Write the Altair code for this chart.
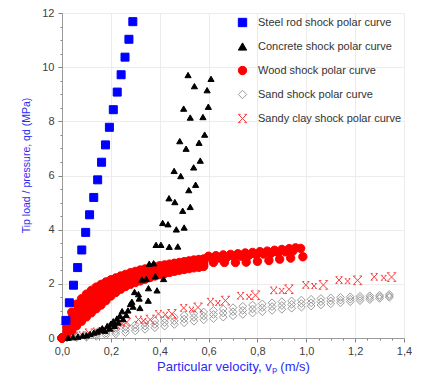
import altair as alt
import pandas as pd

series_names = [
    "Steel rod shock polar curve",
    "Concrete shock polar curve",
    "Wood shock polar curve",
    "Sand shock polar curve",
    "Sandy clay shock polar curve",
]
fill_colors = ["#0000ff", "#000000", "#ff0000", "transparent", "transparent"]
stroke_colors = ["#0000ff", "#000000", "#ff0000", "#9a9a9a", "#ff3b3b"]
x_path = "M-1,-1L1,1M-1,1L1,-1M-1,-1L-0.45,-1M0.45,-1L1,-1M-1,1L-0.45,1M0.45,1L1,1"
shapes = ["square", "triangle-up", "circle", "diamond", x_path]

# Steel rod
steel_x = [0.016, 0.030, 0.047, 0.064, 0.081, 0.097, 0.113, 0.130, 0.146,
           0.162, 0.178, 0.194, 0.210, 0.226, 0.242, 0.258, 0.274, 0.290]
steel_y = [0.65, 1.30, 1.95, 2.60, 3.25, 3.90, 4.55, 5.19, 5.84,
           6.49, 7.13, 7.78, 8.43, 9.08, 9.72, 10.37, 11.03, 11.68]

# Concrete
concrete_x = [0.516, 0.542, 0.594, 0.610, 0.498, 0.525, 0.577, 0.599,
              0.482, 0.508, 0.561, 0.584, 0.459, 0.486, 0.539, 0.566,
              0.519, 0.547, 0.438, 0.462, 0.494, 0.525, 0.412, 0.434,
              0.468, 0.500, 0.385, 0.405, 0.439, 0.474, 0.357, 0.375,
              0.327, 0.345, 0.382, 0.416, 0.297, 0.313, 0.354, 0.389,
              0.286, 0.316, 0.353, 0.280, 0.291, 0.319,
              0.025, 0.045, 0.065, 0.085, 0.100, 0.115, 0.130, 0.145,
              0.155, 0.165, 0.175, 0.185, 0.195, 0.200, 0.210, 0.215,
              0.225, 0.230, 0.237, 0.246, 0.250, 0.263, 0.270]
concrete_y = [9.71, 9.30, 9.15, 9.57, 8.47, 8.14, 8.16, 8.54,
              7.27, 6.99, 7.21, 7.51, 6.17, 5.98, 6.30, 6.55,
              5.46, 5.66, 5.16, 5.02, 4.70, 4.84, 4.25, 4.20,
              4.01, 4.08, 3.44, 3.44, 3.37, 3.38, 2.74, 2.76,
              2.16, 2.18, 2.28, 2.18, 1.70, 1.62, 1.84, 1.76,
              1.34, 1.46, 1.38, 1.26, 1.16, 1.11,
              0.01, 0.03, 0.05, 0.09, 0.10, 0.15, 0.20, 0.24,
              0.30, 0.36, 0.27, 0.44, 0.35, 0.53, 0.62, 0.45,
              0.72, 0.57, 0.82, 0.99, 0.70, 0.85, 1.02]

# Wood (dense band, four rows, then the tail)
wood_x = [0.00, 0.02, 0.04, 0.06, 0.08, 0.10, 0.12, 0.14, 0.16, 0.18,
          0.20, 0.22, 0.24, 0.26, 0.28, 0.30, 0.32, 0.34, 0.36, 0.38,
          0.40, 0.42, 0.44, 0.46, 0.48, 0.50, 0.52, 0.54, 0.56, 0.58]
wood_y_upper = [0.00, 0.55, 0.95, 1.25, 1.45, 1.62, 1.76, 1.88, 1.98, 2.07,
                2.15, 2.22, 2.29, 2.35, 2.41, 2.46, 2.51, 2.55, 2.59, 2.63,
                2.67, 2.70, 2.73, 2.76, 2.79, 2.82, 2.85, 2.88, 2.90, 2.92]
wood_y_mid1 = [0.00, 0.40, 0.73, 1.00, 1.21, 1.38, 1.53, 1.66, 1.78, 1.88,
               1.98, 2.07, 2.15, 2.22, 2.28, 2.34, 2.39, 2.44, 2.48, 2.52,
               2.56, 2.60, 2.63, 2.66, 2.69, 2.72, 2.75, 2.77, 2.79, 2.81]
wood_y_mid2 = [0.00, 0.25, 0.50, 0.72, 0.92, 1.09, 1.24, 1.38, 1.51, 1.63,
               1.74, 1.85, 1.95, 2.04, 2.11, 2.18, 2.24, 2.29, 2.34, 2.38,
               2.42, 2.46, 2.50, 2.53, 2.57, 2.60, 2.63, 2.65, 2.68, 2.70]
wood_y_lower = [0.00, 0.12, 0.28, 0.45, 0.62, 0.78, 0.93, 1.08, 1.22, 1.38,
                1.55, 1.68, 1.80, 1.90, 1.98, 2.05, 2.11, 2.17, 2.23, 2.29,
                2.34, 2.38, 2.42, 2.46, 2.50, 2.53, 2.56, 2.59, 2.61, 2.64]
wood_tail_x = [0.600, 0.630, 0.660, 0.690, 0.720, 0.750, 0.780, 0.810, 0.840,
               0.870, 0.900, 0.930, 0.956,
               0.615, 0.645, 0.675, 0.705, 0.735, 0.765, 0.795, 0.825, 0.855,
               0.885, 0.915, 0.945, 0.977,
               0.580, 0.620, 0.665, 0.710, 0.754, 0.800, 0.847, 0.891, 0.936,
               0.986]
wood_tail_y = [3.02, 3.04, 3.07, 3.09, 3.11, 3.14, 3.16, 3.19, 3.21,
               3.24, 3.27, 3.30, 3.33,
               2.93, 2.95, 2.98, 3.00, 3.02, 3.05, 3.07, 3.10, 3.12,
               3.15, 3.18, 3.21, 3.31,
               2.83, 2.79, 2.79, 2.79, 2.80, 2.83, 2.86, 2.91, 2.95,
               3.00]

# Sand (band of three rows)
sand_x = [0.02, 0.06, 0.10, 0.14, 0.18, 0.22, 0.26, 0.30, 0.34, 0.38,
          0.42, 0.46, 0.50, 0.54, 0.58, 0.62, 0.66, 0.70, 0.74, 0.78,
          0.82, 0.86, 0.90, 0.94, 0.98, 1.02, 1.06, 1.10, 1.14, 1.18,
          1.22, 1.26, 1.30, 1.34]
sand_y_upper = [0.03, 0.08, 0.14, 0.20, 0.27, 0.34, 0.42, 0.49, 0.56, 0.63,
                0.70, 0.77, 0.84, 0.90, 0.96, 1.02, 1.07, 1.12, 1.17, 1.22,
                1.26, 1.30, 1.34, 1.37, 1.40, 1.43, 1.46, 1.48, 1.50, 1.52,
                1.54, 1.56, 1.58, 1.61]
sand_y_mid = [0.01, 0.04, 0.08, 0.13, 0.18, 0.24, 0.31, 0.37, 0.44, 0.50,
              0.57, 0.63, 0.70, 0.76, 0.81, 0.87, 0.92, 0.97, 1.02, 1.07,
              1.12, 1.16, 1.20, 1.24, 1.27, 1.30, 1.34, 1.37, 1.40, 1.43,
              1.46, 1.49, 1.52, 1.55]
sand_y_lower = [0.00, 0.01, 0.03, 0.06, 0.10, 0.15, 0.20, 0.26, 0.32, 0.38,
                0.44, 0.50, 0.56, 0.62, 0.67, 0.72, 0.77, 0.82, 0.87, 0.92,
                0.97, 1.02, 1.06, 1.10, 1.14, 1.18, 1.22, 1.26, 1.30, 1.34,
                1.38, 1.42, 1.46, 1.50]

# Sandy clay (groups of three markers)
clay_x = [0.050, 0.080, 0.110, 0.140, 0.170, 0.200, 0.225, 0.246, 0.265,
          0.313, 0.334, 0.361, 0.395, 0.423, 0.450, 0.498, 0.530, 0.557,
          0.608, 0.638, 0.669, 0.731, 0.765, 0.792, 0.867, 0.899, 0.929,
          0.998, 1.032, 1.070, 1.134, 1.169, 1.210, 1.278, 1.317, 1.349]
clay_y = [0.10, 0.14, 0.19, 0.25, 0.31, 0.38, 0.45, 0.53, 0.59,
          0.68, 0.63, 0.68, 0.89, 0.86, 0.89, 1.11, 1.05, 1.13,
          1.34, 1.29, 1.38, 1.56, 1.52, 1.58, 1.76, 1.74, 1.80,
          1.96, 1.92, 1.96, 2.14, 2.10, 2.13, 2.26, 2.22, 2.25]
clay_size = [40, 25, 60, 40, 25, 60, 40, 25, 60,
             45, 25, 75, 45, 25, 75, 45, 25, 75,
             45, 25, 75, 45, 25, 75, 45, 25, 75,
             45, 25, 75, 45, 25, 75, 45, 25, 75]

rows = []


def add(name, xs, ys, size):
    sizes = size if isinstance(size, list) else [size] * len(xs)
    for xv, yv, sv in zip(xs, ys, sizes):
        rows.append({"vp": xv, "qd": yv, "series": name, "sz": sv})


add(series_names[3], sand_x, sand_y_lower, 60)
add(series_names[3], sand_x, sand_y_mid, 60)
add(series_names[3], sand_x, sand_y_upper, 60)
add(series_names[4], clay_x, clay_y, clay_size)
add(series_names[2], wood_x, wood_y_lower, 70)
add(series_names[2], wood_x, wood_y_mid2, 70)
add(series_names[2], wood_x, wood_y_mid1, 70)
add(series_names[2], wood_x, wood_y_upper, 70)
add(series_names[2], wood_tail_x, wood_tail_y, 70)
add(series_names[0], steel_x, steel_y, 64)
add(series_names[1], concrete_x, concrete_y, 38)

df = pd.DataFrame(rows)

x_tick_values = [0.0, 0.05, 0.1, 0.15, 0.2, 0.25, 0.3, 0.35, 0.4, 0.45, 0.5,
                 0.55, 0.6, 0.65, 0.7, 0.75, 0.8, 0.85, 0.9, 0.95, 1.0, 1.05,
                 1.1, 1.15, 1.2, 1.25, 1.3, 1.35, 1.4]
y_tick_values = [0, 0.5, 1, 1.5, 2, 2.5, 3, 3.5, 4, 4.5, 5, 5.5, 6, 6.5, 7,
                 7.5, 8, 8.5, 9, 9.5, 10, 10.5, 11, 11.5, 12]

x_major = "abs(datum.value*5 - round(datum.value*5)) < 0.001"
y_major = "abs(datum.value/2 - round(datum.value/2)) < 0.001"

FONT = "Liberation Sans"
TITLE_BLUE = "#2b2bf5"

x_axis = alt.Axis(
    values=x_tick_values,
    labelExpr=f"({x_major}) ? replace(format(datum.value, '.1f'), '.', ',') : ''",
    labelOverlap=False,
    labelFlush=False,
    labelFont=FONT,
    labelFontSize=11,
    labelColor="#404040",
    labelPadding=3,
    tickSize={"condition": {"test": x_major, "value": 4}, "value": 2},
    tickColor="#808080",
    grid=True,
    gridColor={"condition": {"test": x_major, "value": "#ececec"}, "value": "transparent"},
    domainColor="#9a9a9a",
    title="Particular velocity, vₚ (m/s)",
    titleFont=FONT,
    titleFontSize=13,
    titleFontWeight="normal",
    titleColor=TITLE_BLUE,
    titlePadding=4,
)

y_axis = alt.Axis(
    values=y_tick_values,
    labelExpr=f"({y_major}) ? format(datum.value, 'd') : ''",
    labelOverlap=False,
    labelFlush=False,
    labelFont=FONT,
    labelFontSize=11,
    labelColor="#404040",
    labelPadding=4,
    tickSize={"condition": {"test": y_major, "value": 4}, "value": 2},
    tickColor="#808080",
    grid=True,
    gridColor={"condition": {"test": y_major, "value": "#ececec"}, "value": "transparent"},
    domainColor="#9a9a9a",
    title="Tip load / pressure, qd (MPa)",
    titleFont=FONT,
    titleFontSize=10.5,
    titleFontWeight="normal",
    titleColor=TITLE_BLUE,
    titleX=-31,
    titleY=152,
)

legend = alt.Legend(
    title=None,
    orient="none",
    legendX=175,
    legendY=4,
    labelFont=FONT,
    labelFontSize=11,
    labelColor="#333333",
    labelOffset=10,
    rowPadding=11,
    symbolSize=70,
    symbolStrokeWidth=1,
    padding=0,
)

chart = alt.Chart(df).mark_point(opacity=1, strokeWidth=1).encode(
    x=alt.X("vp:Q", scale=alt.Scale(domain=[0, 1.4], nice=False, zero=False), axis=x_axis),
    y=alt.Y("qd:Q", scale=alt.Scale(domain=[0, 12], nice=False), axis=y_axis),
    shape=alt.Shape("series:N", scale=alt.Scale(domain=series_names, range=shapes), legend=legend),
    fill=alt.Fill("series:N", scale=alt.Scale(domain=series_names, range=fill_colors), legend=legend),
    stroke=alt.Stroke("series:N", scale=alt.Scale(domain=series_names, range=stroke_colors), legend=legend),
    size=alt.Size("sz:Q", scale=None, legend=None),
    order=alt.Order("idx:Q"),
).transform_window(
    idx="row_number()"
).properties(
    width=342,
    height=325,
    autosize=alt.AutoSizeParams(type="none"),
    padding={"left": 54, "top": 5, "right": 8, "bottom": 36},
).configure_view(
    stroke="#cfcfcf",
    strokeWidth=1,
).configure(
    background="white",
)

chart.save("out.html", embed_options={"renderer": "svg", "actions": False})
